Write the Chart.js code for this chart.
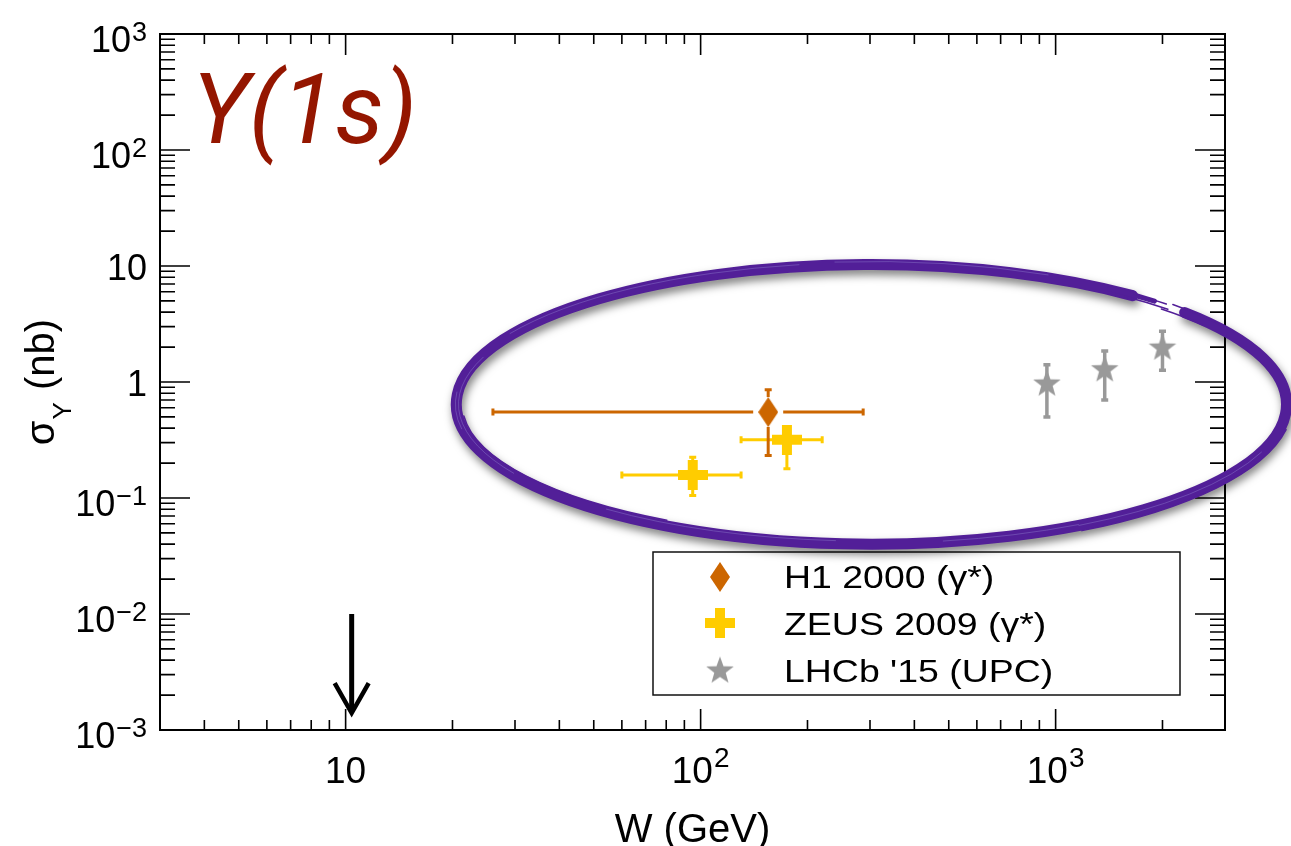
<!DOCTYPE html>
<html>
<head>
<meta charset="utf-8">
<script src="https://cdn.jsdelivr.net/npm/chart.js@4.4.1/dist/chart.umd.min.js"></script>
<style>
  html, body { margin: 0; padding: 0; background: #fff; }
  #wrap { width: 1291px; height: 846px; }
</style>
</head>
<body>
<div id="wrap"><canvas id="sigmaChart" width="1291" height="846"></canvas></div>
<script>
// tick labels
const xTickValues = [10, 100, 1000];
const xTickLabels = ['10', '10^2', '10^3'];
const yTickValues = [0.001, 0.01, 0.1, 1, 10, 100, 1000];
const yTickLabels = ['10^\u22123', '10^\u22122', '10^\u22121', '1', '10', '10^2', '10^3'];

// H1 2000 (gamma*)
const h1W = [155];
const h1Sigma = [0.55];
const h1WLow = [26];
const h1WHigh = [287];
const h1SigmaLow = [0.232];
const h1SigmaHigh = [0.857];

// ZEUS 2009 (gamma*)
const zeusW = [95, 175];
const zeusSigma = [0.158, 0.318];
const zeusWLow = [60, 130];
const zeusWHigh = [130, 220];
const zeusSigmaLow = [0.105, 0.179];
const zeusSigmaHigh = [0.225, 0.41];

// LHCb '15 (UPC)
const lhcbW = [945, 1375, 2000];
const lhcbSigma = [0.98, 1.3, 2.0];
const lhcbSigmaLow = [0.5, 0.7, 1.26];
const lhcbSigmaHigh = [1.41, 1.85, 2.74];

// annotations (arrow and hand drawn ring)
const arrowW = [10.4];
const arrowSigma = [0.01, 0.0014];
const ringW = [20.5, 4470];
const ringSigma = [0.04, 10.3];

const legendLabels = ['H1 2000 (\u03b3*)', 'ZEUS 2009 (\u03b3*)', "LHCb '15 (UPC)"];

const FONT = '"Liberation Sans", Arial, Helvetica, sans-serif';

// marker images
function makeDiamond(color) {
    const c = document.createElement('canvas');
    c.width = 20; c.height = 30;
    const g = c.getContext('2d');
    g.fillStyle = color;
    g.beginPath();
    g.moveTo(10, 0); g.lineTo(20, 15); g.lineTo(10, 30); g.lineTo(0, 15);
    g.closePath();
    g.fill();
    return c;
}
function makePlus(color) {
    const c = document.createElement('canvas');
    c.width = 30; c.height = 30;
    const g = c.getContext('2d');
    g.fillStyle = color;
    g.fillRect(0, 10, 30, 10);
    g.fillRect(10, 0, 10, 30);
    return c;
}
function makeStar(color) {
    const c = document.createElement('canvas');
    c.width = 30; c.height = 29;
    const g = c.getContext('2d');
    g.fillStyle = color;
    g.beginPath();
    for (let i = 0; i < 10; i++) {
        const r = i % 2 === 0 ? 14.5 : 6;
        const a = -Math.PI / 2 + i * Math.PI / 5;
        const px = 15 + r * Math.cos(a), py = 15.5 + r * Math.sin(a);
        if (i === 0) g.moveTo(px, py); else g.lineTo(px, py);
    }
    g.closePath();
    g.fill();
    return c;
}

const h1Color = '#cc6600';
const zeusColor = '#ffcc00';
const lhcbColor = '#999999';
const diamondImg = makeDiamond(h1Color);
const plusImg = makePlus(zeusColor);
const starImg = makeStar(lhcbColor);

function toPoints(xs, ys) {
    return xs.map((x, i) => ({ x: x, y: ys[i] }));
}

function drawErrors(ctx, chart, s) {
    const X = v => chart.scales.x.getPixelForValue(v);
    const Y = v => chart.scales.y.getPixelForValue(v);
    ctx.save();
    ctx.strokeStyle = s.color;
    ctx.lineWidth = s.width;
    ctx.lineCap = 'butt';
    s.x.forEach((w, i) => {
        const cx = X(w), cy = Y(s.y[i]);
        ctx.beginPath();
        if (s.xLo) {
            const l = X(s.xLo[i]), r = X(s.xHi[i]);
            if (cx - s.gapX > l) { ctx.moveTo(l, cy); ctx.lineTo(cx - s.gapX, cy); }
            if (cx + s.gapX < r) { ctx.moveTo(cx + s.gapX, cy); ctx.lineTo(r, cy); }
            ctx.moveTo(l, cy - s.cap); ctx.lineTo(l, cy + s.cap);
            ctx.moveTo(r, cy - s.cap); ctx.lineTo(r, cy + s.cap);
        }
        const t = Y(s.yHi[i]), b = Y(s.yLo[i]);
        if (cy - s.gapY > t) {
            ctx.moveTo(cx, t); ctx.lineTo(cx, cy - s.gapY);
            ctx.moveTo(cx - s.cap, t); ctx.lineTo(cx + s.cap, t);
        }
        if (cy + s.gapY < b) {
            ctx.moveTo(cx, cy + s.gapY); ctx.lineTo(cx, b);
            ctx.moveTo(cx - s.cap, b); ctx.lineTo(cx + s.cap, b);
        }
        ctx.stroke();
    });
    ctx.restore();
}

function drawPowLabel(ctx, text, x, y, align, baseSize, expSize, raise) {
    const parts = text.split('^');
    ctx.font = baseSize + 'px ' + FONT;
    const wb = ctx.measureText(parts[0]).width;
    let we = 0;
    if (parts[1]) {
        ctx.font = expSize + 'px ' + FONT;
        we = ctx.measureText(parts[1]).width + 1;
    }
    const start = align === 'right' ? x - wb - we : x - (wb + we) / 2;
    ctx.textAlign = 'left';
    ctx.textBaseline = 'alphabetic';
    ctx.font = baseSize + 'px ' + FONT;
    ctx.fillText(parts[0], start, y);
    if (parts[1]) {
        ctx.font = expSize + 'px ' + FONT;
        ctx.fillText(parts[1], start + wb + 1, y - raise);
    }
}

const decorPlugin = {
    id: 'decor',
    beforeDatasetsDraw(chart) {
        const ctx = chart.ctx;
        drawErrors(ctx, chart, { x: lhcbW, y: lhcbSigma, yLo: lhcbSigmaLow, yHi: lhcbSigmaHigh,
            color: lhcbColor, width: 3.5, cap: 3.5, gapX: 0, gapY: 0 });
        drawErrors(ctx, chart, { x: zeusW, y: zeusSigma, xLo: zeusWLow, xHi: zeusWHigh,
            yLo: zeusSigmaLow, yHi: zeusSigmaHigh, color: zeusColor, width: 3, cap: 3.5, gapX: 14, gapY: 14 });
        drawErrors(ctx, chart, { x: h1W, y: h1Sigma, xLo: h1WLow, xHi: h1WHigh,
            yLo: h1SigmaLow, yHi: h1SigmaHigh, color: h1Color, width: 3, cap: 3.5, gapX: 15, gapY: 15 });
    },
    afterDatasetsDraw(chart) {
        const ctx = chart.ctx;
        const a = chart.chartArea;
        const xs = chart.scales.x, ys = chart.scales.y;
        ctx.save();
        ctx.strokeStyle = '#000';
        ctx.fillStyle = '#000';

        // frame
        ctx.lineWidth = 2;
        ctx.strokeRect(a.left, a.top, a.right - a.left, a.bottom - a.top);

        // x ticks, top and bottom, pointing inward
        ctx.lineWidth = 1.6;
        ctx.beginPath();
        for (let d = 1; d <= 1000; d *= 10) {
            for (let m = 1; m <= 9; m++) {
                const v = m * d;
                if (v <= xs.min || v >= xs.max) continue;
                const px = xs.getPixelForValue(v);
                const len = m === 1 ? 21 : 10;
                ctx.moveTo(px, a.bottom); ctx.lineTo(px, a.bottom - len);
                ctx.moveTo(px, a.top); ctx.lineTo(px, a.top + len);
            }
        }
        // y ticks, left and right
        for (let d = 0.001; d <= 1000; d *= 10) {
            for (let m = 1; m <= 9; m++) {
                const v = m * d;
                if (v < ys.min * 0.999 || v > ys.max * 1.001) continue;
                const py = ys.getPixelForValue(v);
                const len = m === 1 ? 30 : 15;
                ctx.moveTo(a.left, py); ctx.lineTo(a.left + len, py);
                ctx.moveTo(a.right, py); ctx.lineTo(a.right - len, py);
            }
        }
        ctx.stroke();

        // tick labels
        xTickValues.forEach((v, i) => {
            drawPowLabel(ctx, xTickLabels[i], xs.getPixelForValue(v), a.bottom + 53, 'center', 37, 28, 16);
        });
        yTickValues.forEach((v, i) => {
            const hasExp = yTickLabels[i].indexOf('^') >= 0;
            drawPowLabel(ctx, yTickLabels[i], 147, ys.getPixelForValue(v) + (hasExp ? 18 : 14), 'right', 36, 27, 11);
        });

        // axis titles
        ctx.font = '40px ' + FONT;
        ctx.textAlign = 'center';
        ctx.fillText('W (GeV)', (a.left + a.right) / 2, 842);

        ctx.save();
        ctx.translate(54, (a.top + a.bottom) / 2);
        ctx.rotate(-Math.PI / 2);
        ctx.textAlign = 'left';
        ctx.font = '40px ' + FONT;
        const wSig = ctx.measureText('\u03c3').width;
        const wRest = ctx.measureText(' (nb)').width;
        ctx.font = '26px ' + FONT;
        const wSub = ctx.measureText('\u03a5').width;
        let sx = -(wSig + wSub + wRest + 2) / 2;
        ctx.font = '40px ' + FONT;
        ctx.fillText('\u03c3', sx, 0);
        ctx.font = '26px ' + FONT;
        ctx.fillText('\u03a5', sx + wSig + 1, 17);
        ctx.font = '40px ' + FONT;
        ctx.fillText(' (nb)', sx + wSig + wSub + 2, 0);
        ctx.restore();

        // legend
        ctx.lineWidth = 1.5;
        ctx.strokeStyle = '#111';
        ctx.strokeRect(653, 552, 527, 143);
        const imgs = [diamondImg, plusImg, starImg];
        const rowY = [577, 623, 670];
        const baseY = [588, 635, 682];
        imgs.forEach((img, i) => {
            ctx.drawImage(img, 720 - img.width / 2, rowY[i] - img.height / 2);
            ctx.save();
            ctx.translate(784, baseY[i]);
            ctx.scale(1.17, 1);
            ctx.font = '32px ' + FONT;
            ctx.textAlign = 'left';
            ctx.fillStyle = '#000';
            ctx.fillText(legendLabels[i], 0, 0);
            ctx.restore();
        });

        // state label
        ctx.font = 'italic 400 98px Roboto, "Open Sans", sans-serif';
        ctx.fillStyle = '#941600';
        ctx.textAlign = 'left';
        ctx.fillText('\u03a5(1s)', 192, 143);

        // arrow
        const ax = xs.getPixelForValue(arrowW[0]);
        const ay0 = ys.getPixelForValue(arrowSigma[0]);
        const ay1 = ys.getPixelForValue(arrowSigma[1]);
        ctx.strokeStyle = '#000';
        ctx.lineWidth = 5;
        ctx.beginPath();
        ctx.moveTo(ax, ay0); ctx.lineTo(ax, ay1 - 2);
        ctx.stroke();
        ctx.lineWidth = 4.5;
        ctx.beginPath();
        ctx.moveTo(ax - 17, ay1 - 30); ctx.lineTo(ax, ay1); ctx.lineTo(ax + 17, ay1 - 30);
        ctx.stroke();
        ctx.restore();
    },
    afterDraw(chart) {
        const ctx = chart.ctx;
        const X = v => chart.scales.x.getPixelForValue(v);
        const Y = v => chart.scales.y.getPixelForValue(v);
        const cx = (X(ringW[0]) + X(ringW[1])) / 2;
        const cy = (Y(ringSigma[0]) + Y(ringSigma[1])) / 2;
        const rx = (X(ringW[1]) - X(ringW[0])) / 2;
        const ry = (Y(ringSigma[0]) - Y(ringSigma[1])) / 2;
        const deg = Math.PI / 180;
        ctx.save();
        // main stroke with soft shadow
        ctx.shadowColor = 'rgba(0,0,0,0.5)';
        ctx.shadowBlur = 9;
        ctx.shadowOffsetX = 2;
        ctx.shadowOffsetY = 5;
        ctx.strokeStyle = '#521f98';
        ctx.lineWidth = 11;
        ctx.lineCap = 'round';
        ctx.beginPath();
        ctx.ellipse(cx, cy, rx, ry, 0, -41 * deg, 309 * deg);
        ctx.stroke();
        ctx.shadowColor = 'transparent';
        // tapering end of the stroke
        ctx.lineWidth = 5;
        ctx.beginPath();
        ctx.ellipse(cx, cy - 1, rx, ry, 0, 305 * deg, 313 * deg);
        ctx.stroke();
        ctx.lineWidth = 1.5;
        [[-3, 308, 316], [2, 309, 315], [-5, -45, -36], [4, -44, -32], [6, 10, 60], [-6, 120, 175]].forEach(s => {
            ctx.beginPath();
            ctx.ellipse(cx, cy, rx + s[0], ry + s[0], 0, s[1] * deg, s[2] * deg);
            ctx.stroke();
        });
        // brush texture
        ctx.strokeStyle = 'rgba(120,90,185,0.7)';
        ctx.lineWidth = 1;
        [[-2, 150, 200], [2, 210, 260], [0, 20, 60], [-3, 95, 130], [3, 265, 295], [1, 170, 185], [-1, 60, 80]].forEach(s => {
            ctx.beginPath();
            ctx.ellipse(cx, cy, rx + s[0], ry + s[0], 0, s[1] * deg, s[2] * deg);
            ctx.stroke();
        });
        ctx.restore();
    }
};

const ctx = document.getElementById('sigmaChart').getContext('2d');
new Chart(ctx, {
    type: 'scatter',
    data: {
        datasets: [
            {
                label: legendLabels[2],
                data: toPoints(lhcbW, lhcbSigma),
                pointStyle: starImg,
                pointRadius: 10
            },
            {
                label: legendLabels[1],
                data: toPoints(zeusW, zeusSigma),
                pointStyle: plusImg,
                pointRadius: 10
            },
            {
                label: legendLabels[0],
                data: toPoints(h1W, h1Sigma),
                pointStyle: diamondImg,
                pointRadius: 10
            }
        ]
    },
    options: {
        responsive: false,
        animation: false,
        events: [],
        layout: { padding: { left: 160, right: 66, top: 34, bottom: 116 } },
        plugins: {
            legend: { display: false },
            tooltip: { enabled: false }
        },
        scales: {
            x: { type: 'logarithmic', min: 3, max: 3000, display: false },
            y: { type: 'logarithmic', min: 0.001, max: 1000, display: false }
        }
    },
    plugins: [decorPlugin]
});
</script>
</body>
</html>
